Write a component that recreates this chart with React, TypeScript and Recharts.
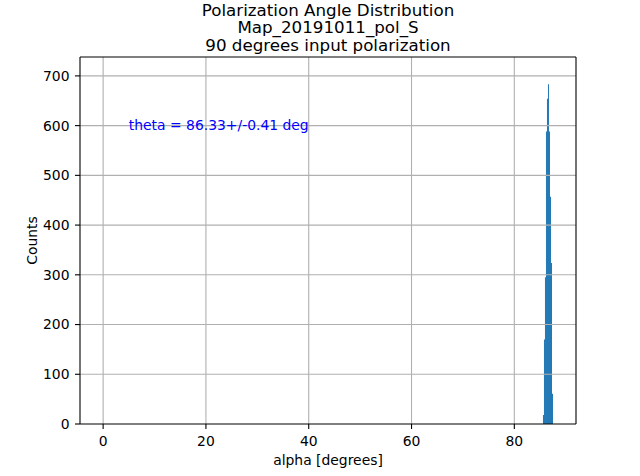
import React from 'react';
import { ComposedChart, Bar, XAxis, YAxis, ReferenceLine, ReferenceDot } from 'recharts';

const binCenters = [85.67, 85.865, 86.06, 86.255, 86.45, 86.645, 86.84, 87.035, 87.23, 87.425];
const counts = [18, 170, 295, 588, 654, 683, 588, 457, 324, 61];
const xTicks = [0, 20, 40, 60, 80];
const yTicks = [0, 100, 200, 300, 400, 500, 600, 700];
const titleLines = ['Polarization Angle Distribution', 'Map_20191011_pol_S', '90 degrees input polarization'];
const annotation = 'theta = 86.33+/-0.41 deg';

const X_DOMAIN: [number, number] = [-4.5, 92.0];
const Y_DOMAIN: [number, number] = [0, 738];

const data = binCenters.map((x, i) => ({ x, count: counts[i] }));

const FONT = 'DejaVu Sans';
const tickStyle = { fill: '#000', fontSize: 13.9, fontFamily: FONT };

export default function App() {
  return (
    <div style={{ position: 'absolute', left: 0, top: 0, width: 640, height: 476, background: '#fff' }}>
      <ComposedChart
        width={640}
        height={476}
        data={data}
        margin={{ top: 57, right: 64, bottom: 22, left: 20 }}
      >
        <XAxis
          xAxisId="b"
          type="number"
          dataKey="x"
          domain={X_DOMAIN}
          ticks={xTicks}
          allowDataOverflow
          interval={0}
          height={30}
          tickSize={5}
          tickMargin={7}
          stroke="#000"
          axisLine={{ stroke: '#000', strokeWidth: 1.1 }}
          tickLine={{ stroke: '#000', strokeWidth: 1.1 }}
          tick={tickStyle}
        />
        <YAxis
          yAxisId="l"
          type="number"
          domain={Y_DOMAIN}
          ticks={yTicks}
          allowDataOverflow
          interval={0}
          width={60}
          tickSize={5}
          tickMargin={5.5}
          stroke="#000"
          axisLine={{ stroke: '#000', strokeWidth: 1.1 }}
          tickLine={{ stroke: '#000', strokeWidth: 1.1 }}
          tick={tickStyle}
        />
        <Bar
          xAxisId="b"
          yAxisId="l"
          dataKey="count"
          barSize={1}
          fill="#1f77b4"
          isAnimationActive={false}
        />
        {xTicks.map((t) => (
          <ReferenceLine key={'gx' + t} xAxisId="b" yAxisId="l" x={t} stroke="#b0b0b0" strokeWidth={1.1} />
        ))}
        {yTicks.filter((t) => t > 0).map((t) => (
          <ReferenceLine key={'gy' + t} xAxisId="b" yAxisId="l" y={t} stroke="#b0b0b0" strokeWidth={1.1} />
        ))}
        <ReferenceLine xAxisId="b" yAxisId="l" y={Y_DOMAIN[1]} stroke="#000" strokeWidth={1.1} />
        <ReferenceLine xAxisId="b" yAxisId="l" x={X_DOMAIN[1]} stroke="#000" strokeWidth={1.1} />
        <ReferenceDot
          xAxisId="b"
          yAxisId="l"
          x={5}
          y={600}
          r={0}
          shape={(p: any) => (
            <text x={p.cx} y={p.cy + 4.3} fill="#0000ff" fontSize={13.9} fontFamily={FONT}>
              {annotation}
            </text>
          )}
        />
      </ComposedChart>
      <svg
        width={640}
        height={476}
        style={{ position: 'absolute', left: 0, top: 0, pointerEvents: 'none' }}
      >
        {titleLines.map((t, i) => (
          <text key={t} x={328} y={16 + i * 17.4} textAnchor="middle" fontSize={16.7} fontFamily={FONT} fill="#000">
            {t}
          </text>
        ))}
        <text x={328} y={465} textAnchor="middle" fontSize={13.9} fontFamily={FONT} fill="#000">
          alpha [degrees]
        </text>
        <text
          x={36.5}
          y={240.5}
          textAnchor="middle"
          fontSize={13.9}
          fontFamily={FONT}
          fill="#000"
          transform="rotate(-90, 36.5, 240.5)"
        >
          Counts
        </text>
      </svg>
    </div>
  );
}
